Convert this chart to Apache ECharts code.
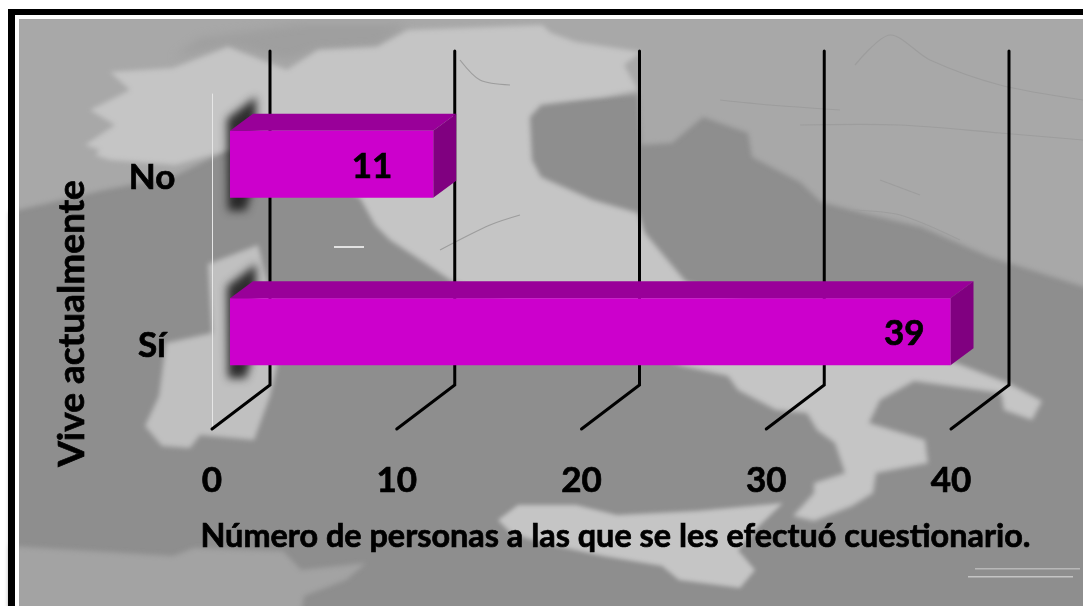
<!DOCTYPE html>
<html>
<head>
<meta charset="utf-8">
<style>html,body{margin:0;padding:0;background:#fff}#c{width:1083px;height:606px}</style>
<script src="https://cdn.jsdelivr.net/npm/echarts@6/dist/echarts.min.js"></script>
</head>
<body>
<div id="c"></div>
<script>
// ---- data ----
const categories = ['Sí', 'No'];
const counts = [39, 11];
const tickValues = [0, 10, 20, 30, 40];
const xTitle = 'Número de personas a las que se les efectuó cuestionario.';
const yTitle = 'Vive actualmente';

// ---- style constants ----
const FONT = 'Lato, "Open Sans", sans-serif';
const FRONT = '#cc00cc', TOP = '#990099', SIDE = '#800080';
const labelInsets = [26, 41];      // distance of each value label's right edge from the bar end
const floorDepth = [58, -44];      // depth of the 3D floor
const barGap = [18, -13.5];        // front of the bars, relative to the front of the floor
const barDepth = [23, -17];        // depth of the bars
const OFF = 3000;                  // blurred shapes are drawn off-canvas; only their soft shadow shows
const HEAVY = { textBorderColor: '#000', textBorderWidth: 0.7 };

// ---- decorative backdrop: greyscale map ----
const seaShape = [[10,212],[104,190],[173,177],[228,150],[500,100],[603,97],[638,95],[641,145],[672,143],[703,117],[748,133],[752,157],[800,182],[821,202],[862,213],[921,227],[990,257],[1100,292],[1100,620],[10,620]];
const mainland = [[110,72],[173,68],[228,47],[287,70],[318,50],[377,47],[408,30],[542,25],[551,33],[576,42],[641,52],[624,65],[638,90],[603,97],[541,105],[530,117],[532,160],[541,177],[593,200],[638,213],[645,233],[665,257],[686,282],[800,320],[956,363],[1008,383],[1042,401],[1032,420],[1004,410],[1001,393],[914,381],[880,400],[869,423],[925,440],[928,463],[876,473],[873,493],[852,506],[814,521],[793,516],[814,493],[814,483],[845,473],[835,443],[817,430],[807,413],[776,410],[738,390],[728,376],[683,366],[560,320],[453,282],[425,263],[390,240],[375,225],[360,198],[300,165],[228,150],[175,165],[110,160],[95,155],[100,150],[85,145],[115,125],[90,110],[130,90]];
const sardinia = [[166,343],[212,333],[208,264],[258,245],[272,300],[277,366],[270,396],[254,440],[200,435],[190,448],[162,446],[145,426],[159,396]];
const sicily = [[498,520],[518,505],[576,505],[617,515],[697,511],[783,503],[759,526],[738,550],[755,570],[740,588],[679,580],[662,566],[603,556],[542,543],[511,533]];
const southLand = [[10,546],[173,556],[194,548],[283,551],[301,570],[366,563],[346,580],[304,596],[300,620],[10,620]];
const northStrip = [[200,38],[300,24],[408,24],[377,47],[318,50],[287,60],[228,45],[173,58]];
const borderLines = [
  [[855,65],[890,35],[930,60],[1000,85],[1083,100]],
  [[800,125],[900,125],[1000,133],[1083,140]],
  [[850,210],[900,215],[960,240]],
  [[720,100],[770,105],[840,110]],
  [[880,180],[920,195]],
  [[440,250],[490,225],[520,215]],
  [[460,60],[480,80],[510,85]]
];

function poly(points, fill, blur) {
  return { type: 'polygon', z: -10, silent: true, x: -OFF, shape: { points },
    style: { fill, shadowBlur: blur, shadowColor: fill, shadowOffsetX: OFF } };
}
function wire(points) {
  return { type: 'polyline', z: -9, silent: true, shape: { points, smooth: 0.3 },
    style: { stroke: '#9d9d9d', lineWidth: 1.2, fill: null } };
}
function box(x, y, width, height, fill) {
  return { type: 'rect', z: -8, silent: true, shape: { x, y, width, height }, style: { fill } };
}
const backdrop = [
  { type: 'rect', z: -11, silent: true, shape: { x: 19, y: 19, width: 1064, height: 586 }, style: { fill: '#a8a8a8' } },
  poly(northStrip, '#9f9f9f', 10),
  poly(seaShape, '#8e8e8e', 5),
  poly(southLand, '#a3a3a3', 5),
  poly(mainland, '#c5c5c5', 5),
  poly(sardinia, '#c0c0c0', 5),
  poly(sicily, '#c5c5c5', 4),
  ...borderLines.map(wire),
  box(975, 568, 105, 1.5, '#b8b8b8'),
  box(968, 576, 105, 1.5, '#c4c4c4'),
  box(334, 246, 30, 2, '#e2e2e2'),
  box(15, 15, 4, 591, '#fff'),
  box(15, 15, 1068, 4, '#fff'),
  box(8, 9, 1075, 6, '#000'),
  box(8, 9, 7, 597, '#000')
];

// ---- chart ----
const chart = echarts.init(document.getElementById('c'));

function renderGrid(params, api) {
  const cs = params.coordSys;
  const x = api.coord([api.value(0), 0])[0];
  const fy = cs.y + cs.height;
  const bx = x + floorDepth[0], by = fy + floorDepth[1];
  return { type: 'polyline', shape: { points: [[x, fy], [bx, by], [bx, 51]] },
    style: { stroke: '#000', lineWidth: 3, fill: null, lineCap: 'round', lineJoin: 'miter' } };
}

function renderBar(params, api) {
  const i = api.value(1);
  const end = api.coord([api.value(0), i]);
  const start = api.coord([0, i]);
  const h = api.size([0, 1])[1] * 0.4;
  const x0 = start[0] + barGap[0], x1 = end[0] + barGap[0];
  const yc = end[1] + barGap[1];
  const yT = yc - h / 2, yB = yc + h / 2;
  const dx = barDepth[0], dy = barDepth[1];
  return { type: 'group', children: [
    { type: 'polygon', x: -OFF,
      shape: { points: [[x0 - 3, yT - 12], [x0 + 26, yT - 34], [x0 + 26, yB - 22], [x0 + 16, yB + 13], [x0 - 2, yB + 13]] },
      style: { fill: '#1a1a1a', shadowBlur: 9, shadowColor: 'rgba(30,30,30,0.9)', shadowOffsetX: OFF } },
    { type: 'polygon', shape: { points: [[x0, yT], [x0 + dx, yT + dy], [x1 + dx, yT + dy], [x1, yT]] }, style: { fill: TOP } },
    { type: 'polygon', shape: { points: [[x1, yT], [x1 + dx, yT + dy], [x1 + dx, yB + dy], [x1, yB]] }, style: { fill: SIDE } },
    { type: 'rect', shape: { x: x0, y: yT, width: x1 - x0, height: yB - yT }, style: { fill: FRONT } },
    { type: 'text', style: { text: String(api.value(0)), x: x1 - labelInsets[i], y: yc + 2,
        align: 'right', verticalAlign: 'middle', fill: '#000',
        font: 'bold 35px ' + FONT, stroke: '#000', lineWidth: 0.7 } }
  ] };
}

chart.setOption({
  animation: false,
  backgroundColor: '#ffffff',
  graphic: { elements: backdrop },
  grid: { left: 212, right: 132, top: 94, bottom: 177 },
  xAxis: {
    type: 'value', min: 0, max: 40, interval: 10,
    axisLine: { show: false }, axisTick: { show: false }, splitLine: { show: false },
    axisLabel: { color: '#000', fontFamily: FONT, fontWeight: 'bold', fontSize: 35, margin: 34, ...HEAVY },
    name: xTitle, nameLocation: 'middle', nameGap: 92,
    nameTextStyle: { color: '#000', fontFamily: FONT, fontWeight: 'bold', fontSize: 32.4, padding: [0, 0, 0, 68], ...HEAVY }
  },
  yAxis: {
    type: 'category', data: categories,
    axisLine: { show: true, lineStyle: { color: '#e6e6e6', width: 1 } },
    axisTick: { show: false }, splitLine: { show: false },
    axisLabel: { color: '#000', fontFamily: FONT, fontWeight: 'bold', fontSize: 35, margin: 60, align: 'center', padding: [14, 0, 0, 0], ...HEAVY },
    name: yTitle, nameLocation: 'middle', nameGap: 121,
    nameTextStyle: { color: '#000', fontFamily: FONT, fontWeight: 'bold', fontSize: 37, padding: [0, 124, 0, 0], ...HEAVY }
  },
  series: [
    { type: 'custom', z: 3, clip: false, silent: true, renderItem: renderGrid, data: tickValues.map(t => [t]), encode: { x: 0 } },
    { type: 'custom', z: 4, clip: false, silent: true, renderItem: renderBar, data: counts.map((v, i) => [v, i]), encode: { x: 0, y: 1 } }
  ]
});
</script>
</body>
</html>
